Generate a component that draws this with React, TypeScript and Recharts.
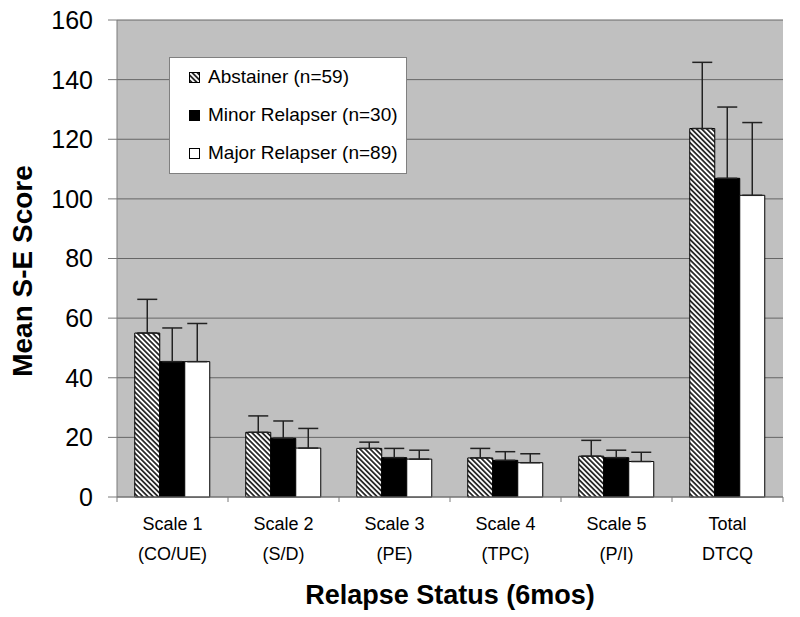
import React from "react";
import { BarChart, Bar, XAxis, YAxis, CartesianGrid, ErrorBar, Legend } from "recharts";

const scaleNames = ["Scale 1", "Scale 2", "Scale 3", "Scale 4", "Scale 5", "Total"];
const scaleCodes = ["(CO/UE)", "(S/D)", "(PE)", "(TPC)", "(P/I)", "DTCQ"];

const abstainer = [55, 21.7, 16.3, 13.1, 13.7, 123.6];
const abstainerErr = [11.3, 5.5, 2.1, 3.2, 5.3, 22.2];
const minor = [45.4, 19.7, 13.2, 12.3, 13.2, 106.9];
const minorErr = [11.3, 5.8, 3.1, 2.9, 2.5, 23.9];
const major = [45.4, 16.4, 12.7, 11.5, 11.9, 101.2];
const majorErr = [12.8, 6.6, 3.0, 3.0, 3.1, 24.4];

const yTicks = [0, 20, 40, 60, 80, 100, 120, 140, 160];

const seriesLabels = ["Abstainer (n=59)", "Minor Relapser (n=30)", "Major Relapser (n=89)"];

const data = scaleNames.map((name, i) => ({
  name,
  code: scaleCodes[i],
  abstainer: abstainer[i],
  abstainerErr: [0, abstainerErr[i]],
  minor: minor[i],
  minorErr: [0, minorErr[i]],
  major: major[i],
  majorErr: [0, majorErr[i]],
}));

const FONT = "Arial, 'Liberation Sans', sans-serif";
const W = 800;
const H = 617;
const M = { top: 20, right: 17, left: 57, bottom: 20 };
const Y_AXIS_W = 60;
const PLOT_W = W - M.left - M.right - Y_AXIS_W;
const HALF_BAND = PLOT_W / scaleNames.length / 2;
const AXIS_GRAY = "#7a7a7a";

function CategoryTick(props: any) {
  const { x, y, payload } = props;
  const i = payload.index;
  const last = i === scaleNames.length - 1;
  return (
    <g>
      <line x1={x - HALF_BAND} y1={y} x2={x - HALF_BAND} y2={y + 5} stroke={AXIS_GRAY} />
      {last && <line x1={x + HALF_BAND} y1={y} x2={x + HALF_BAND} y2={y + 5} stroke={AXIS_GRAY} />}
      <text x={x} textAnchor="middle" fontSize={18} fontFamily={FONT} fill="#000">
        <tspan x={x} y={y + 33}>{scaleNames[i]}</tspan>
        <tspan x={x} y={y + 63}>{scaleCodes[i]}</tspan>
      </text>
    </g>
  );
}

const swatchFills = ["url(#hatch)", "#000", "#fff"];

function LegendBox() {
  return (
    <div
      style={{
        width: 236,
        height: 115,
        background: "#fff",
        border: "1px solid #808080",
        fontFamily: FONT,
        fontSize: 19,
        color: "#000",
        position: "relative",
      }}
    >
      {seriesLabels.map((label, i) => (
        <div
          key={label}
          style={{ position: "absolute", left: 19, top: 7 + i * 38, height: 24, display: "flex", alignItems: "center" }}
        >
          <svg width={11} height={11} style={{ marginRight: 8 }}>
            <rect x={0.5} y={0.5} width={10} height={10} fill={swatchFills[i]} stroke="#000" />
          </svg>
          <span style={{ whiteSpace: "nowrap" }}>{label}</span>
        </div>
      ))}
    </div>
  );
}

export default function App() {
  return (
    <div style={{ position: "absolute", left: 0, top: 0, width: W, height: H, background: "#fff" }}>
      <BarChart width={W} height={H} data={data} margin={M} barCategoryGap="16%" barGap={0}>
        <defs>
          <pattern id="hatch" patternUnits="userSpaceOnUse" width={3.6} height={3.6} patternTransform="rotate(-45)">
            <rect width={3.6} height={3.6} fill="#fff" />
            <line x1={1.8} y1={0} x2={1.8} y2={3.6} stroke="#000" strokeWidth={1.5} />
          </pattern>
        </defs>
        <CartesianGrid vertical={false} stroke="#666" fill="#c0c0c0" fillOpacity={1} />
        <XAxis
          dataKey="name"
          height={100}
          tickLine={false}
          tickSize={0}
          tickMargin={0}
          stroke={AXIS_GRAY}
          tick={<CategoryTick />}
          interval={0}
          label={{
            content: () => (
              <text x={450} y={604} textAnchor="middle" fontSize={27} fontWeight="bold" fontFamily={FONT} fill="#000">
                Relapse Status (6mos)
              </text>
            ),
          }}
        />
        <YAxis
          width={Y_AXIS_W}
          domain={[0, 160]}
          ticks={yTicks}
          interval={0}
          tickSize={9}
          tickMargin={15}
          stroke={AXIS_GRAY}
          tick={{ fill: "#000", fontSize: 25, fontFamily: FONT }}
          label={{
            content: () => (
              <text
                transform="translate(32,271) rotate(-90)"
                textAnchor="middle"
                fontSize={28}
                fontWeight="bold"
                fontFamily={FONT}
                fill="#000"
              >
                Mean S-E Score
              </text>
            ),
          }}
        />
        <Legend
          layout="vertical"
          align="center"
          verticalAlign="middle"
          wrapperStyle={{ position: "absolute", left: 169, top: 57, width: 238, height: 117 }}
          content={() => <LegendBox />}
        />
        <Bar dataKey="abstainer" fill="url(#hatch)" stroke="#000" strokeWidth={1} isAnimationActive={false}>
          <ErrorBar dataKey="abstainerErr" width={10} stroke="#222" strokeWidth={1.5} />
        </Bar>
        <Bar dataKey="minor" fill="#000" stroke="#000" strokeWidth={1} isAnimationActive={false}>
          <ErrorBar dataKey="minorErr" width={10} stroke="#222" strokeWidth={1.5} />
        </Bar>
        <Bar dataKey="major" fill="#fff" stroke="#000" strokeWidth={1} isAnimationActive={false}>
          <ErrorBar dataKey="majorErr" width={10} stroke="#222" strokeWidth={1.5} />
        </Bar>
      </BarChart>
    </div>
  );
}
